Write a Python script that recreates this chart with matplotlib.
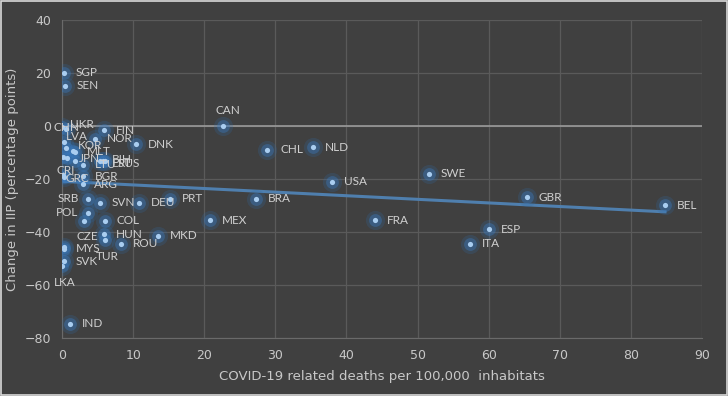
import numpy as np
import matplotlib.pyplot as plt
from matplotlib.patches import Rectangle

# data
countries = ['SGP', 'SEN', 'CHN', 'UKR', 'FIN', 'NOR', 'DNK', 'LVA', '', '',
             'KOR', 'MLT', 'JPN', '', 'LTU', 'BIH', 'EST', 'RUS', 'CRI', 'GRC',
             'BGR', 'ARG', 'SRB', 'SVN', 'DEU', 'PRT', 'POL', '', 'COL', 'HUN',
             'TUR', 'ROU', 'CZE', 'MYS', 'SVK', 'LKA', 'IND', 'MKD', 'MEX', 'CAN',
             'CHL', 'NLD', 'USA', 'SWE', 'GBR', 'BEL', 'ESP', 'ITA', 'FRA', 'BRA']
deaths = [0.3, 0.4, 0.0, 0.6, 5.9, 4.6, 10.4, 0.3, 0.6, 0.1,
          1.5, 1.8, 1.8, 0.7, 2.9, 5.3, 5.8, 6.0, 0.2, 0.3,
          2.9, 2.9, 3.7, 5.3, 10.8, 15.2, 3.7, 3.1, 6.0, 5.9,
          6.0, 8.3, 0.3, 0.25, 0.3, 0.0, 1.1, 13.5, 20.8, 22.6,
          28.8, 35.3, 38.0, 51.6, 65.4, 84.8, 60.1, 57.4, 44.0, 27.3]
iip_change = [20.0, 15.1, -0.4, -1.0, -1.7, -4.9, -6.8, -6.0, -8.3, -11.7,
              -9.6, -9.8, -13.2, -12.0, -14.7, -13.2, -13.2, -13.2, -18.5, -19.3,
              -18.9, -21.9, -27.5, -29.0, -29.0, -27.5, -32.8, -35.8, -35.8, -40.8,
              -43.0, -44.5, -45.5, -46.3, -51.0, -52.8, -74.7, -41.5, -35.5, 0.0,
              -9.0, -8.0, -21.1, -18.0, -26.8, -30.0, -39.0, -44.5, -35.5, -27.5]

# label offsets in points (dx, dy, ha); default: right of the marker
label_pos = {'CHN': (-6, 0, 'left'), 'UKR': (3, 3, 'left'), 'LVA': (1, 4, 'left'),
             'KOR': (4, 4, 'left'), 'MLT': (9, 0, 'left'), 'JPN': (3, 2, 'left'),
             'BIH': (8.5, 1, 'left'), 'EST': (6.5, -1.5, 'left'), 'RUS': (9.5, -1.5, 'left'),
             'CRI': (-5, 3, 'left'), 'GRC': (1, -1, 'left'), 'SRB': (-7, 0, 'right'),
             'POL': (-7, 0, 'right'), 'TUR': (-6, -12, 'left'), 'CZE': (9, 7, 'left'),
             'LKA': (-6, -12, 'left'), 'CAN': (-5, 11, 'left'), 'CHL': (10, 0, 'left')}

bg = '#404040'
fig = plt.figure(figsize=(7.28, 3.96), dpi=100, facecolor=bg)
ax = fig.add_axes([0.0852, 0.1465, 0.8791, 0.803])
ax.set_facecolor(bg)
plt.rcParams['font.family'] = ['Lato', 'DejaVu Sans']

ax.set_xlim(0, 90)
ax.set_ylim(-80, 40)
ax.set_xticks(range(0, 91, 10))
ax.set_yticks(range(-80, 41, 20))
ax.grid(True, color='#5a5a5a', lw=0.9)
ax.set_axisbelow(True)
for side in ['top', 'right']:
    ax.spines[side].set_visible(False)
ax.spines['left'].set_color('#6a6a6a')
ax.spines['bottom'].set_color('#6a6a6a')
ax.axhline(0, color='#9a9a9a', lw=1.2, zorder=1)
ax.tick_params(length=0, colors='#c8c8c8', labelsize=9, pad=8)

# glow + dot
ax.scatter(deaths, iip_change, s=190, color='#2e6aa8', alpha=0.22, lw=0, zorder=3)
ax.scatter(deaths, iip_change, s=85, color='#3b7bc0', alpha=0.4, lw=0, zorder=3)
ax.scatter(deaths, iip_change, s=14, color='#a9cdf0', lw=0, zorder=4)

# linear trendline
slope, icpt = np.polyfit(deaths, iip_change, 1)
xs = np.array([min(deaths), max(deaths)])
ax.plot(xs, slope * xs + icpt, color='#4f7fae', lw=2.2, zorder=2)

for name, x, y in zip(countries, deaths, iip_change):
    if not name:
        continue
    dx, dy, ha = label_pos.get(name, (8.5, 0, 'left'))
    ax.annotate(name, (x, y), xytext=(dx, dy), textcoords='offset points',
                fontsize=8.5, color='#d0d0d0', va='center', ha=ha, zorder=5)

ax.set_xlabel('COVID-19 related deaths per 100,000  inhabitats', color='#c8c8c8', fontsize=9.5, labelpad=6)
ax.set_ylabel('Change in IIP (percentage points)', color='#c8c8c8', fontsize=9.5)
ax.yaxis.set_label_coords(-0.067, 0.5)

fig.add_artist(Rectangle((0.002, 0.003), 0.996, 0.994, transform=fig.transFigure,
                         fill=False, edgecolor='#d9d9d9', lw=1.2))

fig.savefig('out.png', dpi=100, facecolor=bg)
